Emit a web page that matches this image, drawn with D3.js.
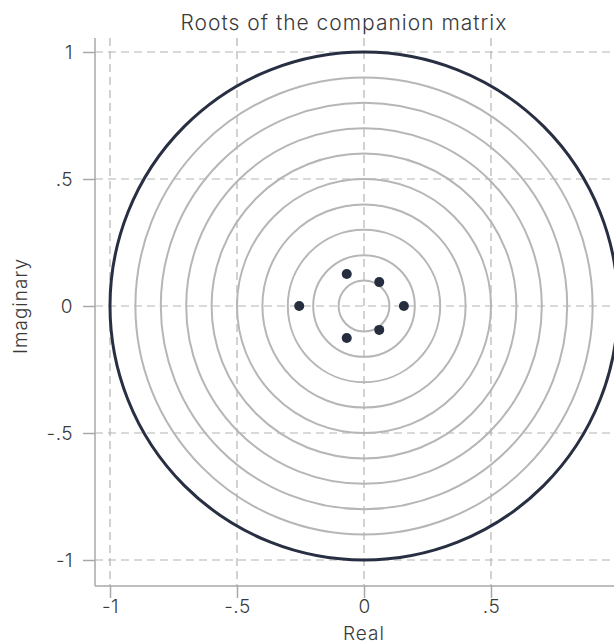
<!DOCTYPE html>
<html>
<head>
<meta charset="utf-8">
<script src="https://cdn.jsdelivr.net/npm/d3@7"></script>
<style>
  html, body { margin: 0; padding: 0; background: #fff; }
  svg { display: block; }
  text { font-family: Inter, "Open Sans", sans-serif; font-weight: 300; fill: #3a3a3a; }
</style>
</head>
<body>
<svg id="chart" width="614" height="644"></svg>
<script>
// Eigenvalues of the companion matrix (real, imaginary)
const realParts = [0.157, -0.255, 0.060, 0.060, -0.068, -0.068];
const imagParts = [0.000, 0.000, 0.094, -0.094, 0.126, -0.126];
// Reference circles and axis ticks
const ringRadii = [0.1, 0.2, 0.3, 0.4, 0.5, 0.6, 0.7, 0.8, 0.9];
const unitRadius = 1;
const tickValues = [-1, -0.5, 0, 0.5, 1];
const tickLabels = ["-1", "-.5", "0", ".5", "1"];

const svg = d3.select("#chart");

const x = d3.scaleLinear().domain([-1, 1]).range([110, 618]);
const y = d3.scaleLinear().domain([-1, 1]).range([560, 52]);
const unit = x(1) - x(0);

const axisLeftX = 95, axisBottomY = 586, plotTop = 38, plotRight = 640;

// dashed grid
const grid = svg.append("g").attr("stroke", "#b4b4b4").attr("stroke-width", 1.2)
  .attr("stroke-dasharray", "8,5").attr("fill", "none");
grid.selectAll(".gx").data(tickValues).join("line")
  .attr("x1", d => x(d)).attr("x2", d => x(d))
  .attr("y1", plotTop).attr("y2", axisBottomY);
grid.selectAll(".gy").data(tickValues).join("line")
  .attr("x1", axisLeftX).attr("x2", plotRight)
  .attr("y1", d => y(d)).attr("y2", d => y(d));

// concentric rings
svg.append("g").selectAll("circle").data(ringRadii).join("circle")
  .attr("cx", x(0)).attr("cy", y(0))
  .attr("r", d => d * unit)
  .attr("fill", "none").attr("stroke", "#b6b6b6").attr("stroke-width", 2);

// unit circle
svg.append("circle")
  .attr("cx", x(0)).attr("cy", y(0)).attr("r", unitRadius * unit)
  .attr("fill", "none").attr("stroke", "#282f42").attr("stroke-width", 3);

// roots
svg.append("g").selectAll("circle").data(realParts.map((r, i) => [r, imagParts[i]])).join("circle")
  .attr("cx", d => x(d[0])).attr("cy", d => y(d[1]))
  .attr("r", 5).attr("fill", "#262d3f");

// axes
const axisColor = "#a8a8a8";
const styleTicks = sel => sel.selectAll(".tick text")
  .attr("font-size", 19).attr("fill", "#3a3a3a").attr("letter-spacing", 0.5)
  .attr("font-family", "Inter, sans-serif").attr("font-weight", 300);

const xAxis = svg.append("g").attr("transform", `translate(0,${axisBottomY})`)
  .call(d3.axisBottom(x).tickValues(tickValues).tickFormat((d, i) => tickLabels[i]).tickSize(12).tickPadding(2))
  .call(g => g.select(".domain").remove());
xAxis.append("line").attr("x1", axisLeftX).attr("x2", plotRight).attr("y1", 0).attr("y2", 0)
  .attr("stroke", axisColor).attr("stroke-width", 1.5);
xAxis.selectAll(".tick line").attr("stroke", axisColor).attr("stroke-width", 1.5);
styleTicks(xAxis);

const yAxis = svg.append("g").attr("transform", `translate(${axisLeftX},0)`)
  .call(d3.axisLeft(y).tickValues(tickValues).tickFormat((d, i) => tickLabels[i]).tickSize(12).tickPadding(10))
  .call(g => g.select(".domain").remove());
yAxis.append("line").attr("x1", 0).attr("x2", 0).attr("y1", plotTop).attr("y2", axisBottomY)
  .attr("stroke", axisColor).attr("stroke-width", 1.5);
yAxis.selectAll(".tick line").attr("stroke", axisColor).attr("stroke-width", 1.5);
styleTicks(yAxis);

// titles
svg.append("text").attr("x", 344).attr("y", 30).attr("text-anchor", "middle")
  .attr("font-size", 21).attr("letter-spacing", 1).text("Roots of the companion matrix");
svg.append("text").attr("x", x(0)).attr("y", 640).attr("text-anchor", "middle")
  .attr("font-size", 19).attr("letter-spacing", 1).text("Real");
svg.append("text").attr("transform", `translate(27,${y(0)}) rotate(-90)`).attr("text-anchor", "middle")
  .attr("font-size", 19).attr("letter-spacing", 1).text("Imaginary");
</script>
</body>
</html>
